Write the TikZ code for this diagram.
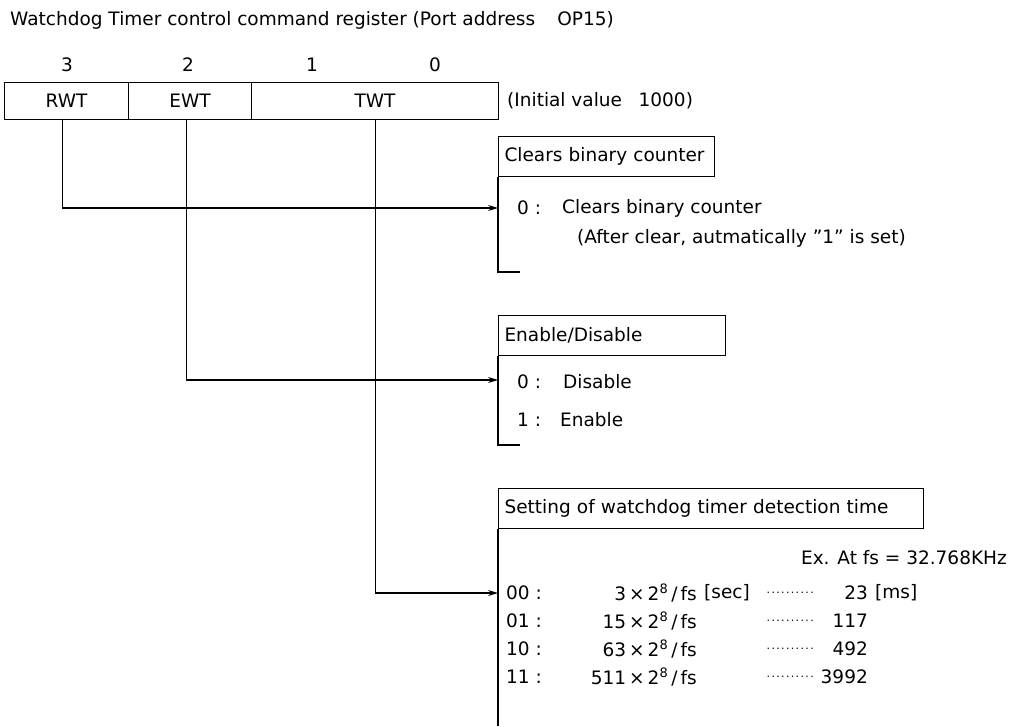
\documentclass[tikz,border=0pt]{standalone}
\usepackage{fontspec}
\setmainfont{DejaVu Sans}
\usetikzlibrary{arrows.meta}
\begin{document}
\begin{tikzpicture}[x=1pt,y=-1pt,
  every node/.style={font=\fontsize{18.5}{21}\selectfont, inner sep=0pt},
  ln/.style={draw=black, line width=1.1pt},
  arr/.style={ln, -{Stealth[length=10pt,width=6pt]}},
  regbox/.style={ln, minimum height=37pt, anchor=north west},
  headbox/.style={ln, minimum height=40pt, anchor=north west, inner xsep=6pt, align=left},
  dots/.style={anchor=west}]
\useasboundingbox (0,0) rectangle (1011,726);

\node[anchor=west] (title) at (10,20) {Watchdog Timer control command register (Port address\hspace{1.2em}OP15)};

\node (b3) at (67,65) {3};
\node (b2) at (188,65) {2};
\node (b1) at (312,65) {1};
\node (b0) at (435,65) {0};

\node[regbox, minimum width=124pt] (rwt) at (4,82) {RWT};
\node[regbox, minimum width=123pt] (ewt) at (128,82) {EWT};
\node[regbox, minimum width=247pt] (twt) at (251,82) {TWT};
\node[anchor=west] (init) at (507,101) {(Initial value\hspace{0.9em}1000)};

% Clears
\node[headbox, minimum width=216pt, text width=204pt] (clr) at (498,136) {Clears binary counter};
\coordinate (clrA) at (498,208);
\coordinate (clrEnd) at (498,272);
\coordinate (clrFoot) at (520,272);
\draw[ln] (clr.south west) -- (clrEnd) -- (clrFoot);
\node[anchor=west] (c0) at (517,208) {0 :};
\node[anchor=west] (c0t) at (562,208) {Clears binary counter};
\node[anchor=west] (c0n) at (577,238) {(After clear, autmatically ”1” is set)};

% Enable
\node[headbox, minimum width=227pt, text width=215pt] (ena) at (498,315) {Enable/Disable};
\coordinate (enaA) at (498,380);
\coordinate (enaEnd) at (498,445);
\coordinate (enaFoot) at (520,445);
\draw[ln] (ena.south west) -- (enaEnd) -- (enaFoot);
\node[anchor=west] (e0) at (517,382) {0 :};
\node[anchor=west] (e0t) at (563,382) {Disable};
\node[anchor=west] (e1) at (517,420) {1 :};
\node[anchor=west] (e1t) at (560,420) {Enable};

% Setting
\node[headbox, minimum width=425pt, text width=413pt] (set) at (498,488) {Setting of watchdog timer detection time};
\coordinate (setA) at (498,593);
\coordinate (setEnd) at (498,726);
\draw[ln] (set.south west) -- (setEnd);
\node[anchor=east] (ex) at (1007,558) {Ex. At fs = 32.768KHz};

\node[anchor=west] (r0) at (506,593) {00 :};
\node[anchor=west] (r1) at (506,621) {01 :};
\node[anchor=west] (r2) at (506,649) {10 :};
\node[anchor=west] (r3) at (506,677) {11 :};
\node[anchor=east] (f0) at (697,593) {3\,×\,2\textsuperscript{8}\,/\,fs};
\node[anchor=west] (s0) at (704,593) {[sec]};
\node[anchor=east] (f1) at (697,621) {15\,×\,2\textsuperscript{8}\,/\,fs};
\node[anchor=east] (f2) at (697,649) {63\,×\,2\textsuperscript{8}\,/\,fs};
\node[anchor=east] (f3) at (697,677) {511\,×\,2\textsuperscript{8}\,/\,fs};
\foreach \y/\n in {593/d0,621/d1,649/d2,677/d3}
  \node[dots] (\n) at (765,\y) {\makebox[50pt]{\fontsize{11}{12}\selectfont\dotfill}};
\node[anchor=east] (v0) at (868,593) {23};
\node[anchor=west] (ms) at (875,593) {[ms]};
\node[anchor=east] (v1) at (868,621) {117};
\node[anchor=east] (v2) at (868,649) {492};
\node[anchor=east] (v3) at (868,677) {3992};

% connectors
\draw[arr] ([xshift=-4pt]rwt.south) |- (clrA);
\draw[arr] ([xshift=-4pt]ewt.south) |- (enaA);
\draw[arr] (twt.south) |- (setA);
\end{tikzpicture}
\end{document}
